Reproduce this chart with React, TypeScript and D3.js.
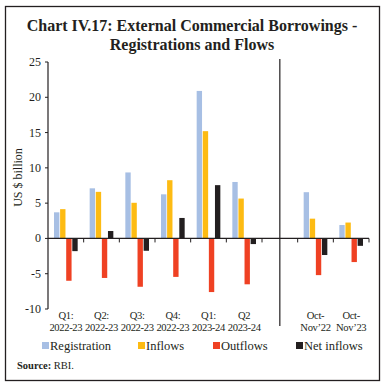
import React from 'react';
import * as d3 from 'd3';

const categories = ['Q1:|2022-23', 'Q2:|2022-23', 'Q3:|2022-23', 'Q4:|2022-23', 'Q1:|2023-24', 'Q2|2023-24', '', 'Oct-|Nov\u201922', 'Oct-|Nov\u201923'];
const seriesNames = ['Registration', 'Inflows', 'Outflows', 'Net inflows'];
const colors = ['#a7bfe4', '#fdbb13', '#ef4123', '#231f20'];
const registration = [3.7, 7.1, 9.35, 6.25, 20.9, 8.0, null, 6.55, 1.9];
const inflows = [4.15, 6.6, 5.05, 8.25, 15.2, 5.65, null, 2.8, 2.25];
const outflows = [-6.0, -5.6, -6.85, -5.45, -7.6, -6.5, null, -5.2, -3.35];
const netInflows = [-1.8, 1.05, -1.75, 2.9, 7.55, -0.8, null, -2.35, -1.05];
const yTicks = [-10, -5, 0, 5, 10, 15, 20, 25];

const series = [registration, inflows, outflows, netInflows];
const serif = '"Liberation Serif", "DejaVu Serif", serif';

const App = () => {
  const width = 386;
  const height = 390;
  const margin = { left: 48, right: 17, top: 62, bottom: 81 };

  const x = d3.scaleBand()
    .domain(categories.map((c, i) => String(i)))
    .range([margin.left, width - margin.right])
    .padding(0);

  const y = d3.scaleLinear()
    .domain([-10, 25])
    .range([height - margin.bottom, margin.top]);

  const inner = d3.scaleBand()
    .domain(seriesNames)
    .range([6, x.bandwidth() - 6])
    .paddingInner(0.12);

  const sepX = x('6') + x.bandwidth() / 2;
  const legendX = [42, 138, 213, 296];

  return (
    <svg width={width} height={height} style={{ position: 'absolute', left: 0, top: 0 }}>
      <rect x={5.5} y={6.5} width={374} height={374} fill="none" stroke="#231f20" strokeWidth={1.3} />
      <text x={192} y={31} textAnchor="middle" fontFamily={serif} fontWeight="bold" fontSize={16} fill="#231f20">
        Chart IV.17: External Commercial Borrowings -
      </text>
      <text x={192} y={50} textAnchor="middle" fontFamily={serif} fontWeight="bold" fontSize={16} fill="#231f20">
        Registrations and Flows
      </text>

      {series.map((vals, s) => (
        <g key={s} fill={colors[s]}>
          {vals.map((v, i) => v == null ? null : (
            <rect
              key={i}
              x={x(String(i)) + inner(seriesNames[s])}
              y={y(Math.max(0, v))}
              width={inner.bandwidth()}
              height={Math.abs(y(v) - y(0))}
            />
          ))}
        </g>
      ))}

      {/* y axis */}
      <line x1={margin.left} x2={margin.left} y1={y(25)} y2={y(-10)} stroke="#231f20" strokeWidth={1.2} />
      {yTicks.map(t => (
        <g key={t}>
          <line x1={margin.left - 3} x2={margin.left} y1={y(t)} y2={y(t)} stroke="#231f20" />
          <text x={margin.left - 7} y={y(t) + 4} textAnchor="end" fontFamily={serif} fontSize={12} fill="#231f20">{t}</text>
        </g>
      ))}
      <text transform={`translate(22,${(y(25) + y(-10)) / 2 - 8}) rotate(-90)`} textAnchor="middle" fontFamily={serif} fontSize={12} fill="#231f20">
        US $ billion
      </text>

      {/* x axis */}
      <line x1={margin.left} x2={width - margin.right} y1={y(0)} y2={y(0)} stroke="#231f20" strokeWidth={1.2} />
      {categories.map((c, i) => (
        <line key={i} x1={x(String(i)) + x.bandwidth()} x2={x(String(i)) + x.bandwidth()} y1={y(0)} y2={y(0) + 4} stroke="#231f20" />
      ))}
      {categories.map((c, i) => {
        const [l1, l2] = c.split('|');
        const cx = x(String(i)) + x.bandwidth() / 2;
        return c ? (
          <text key={i} textAnchor="middle" fontFamily={serif} fontSize={10.6} letterSpacing={-0.35} fill="#231f20">
            <tspan x={cx} y={319}>{l1}</tspan>
            <tspan x={cx} y={331}>{l2}</tspan>
          </text>
        ) : null;
      })}
      <line x1={sepX} x2={sepX} y1={59} y2={326} stroke="#231f20" strokeWidth={1.2} />

      {/* legend */}
      {seriesNames.map((n, i) => (
        <g key={n}>
          <rect x={legendX[i]} y={342} width={7} height={7} fill={colors[i]} />
          <text x={legendX[i] + 8} y={350} fontFamily={serif} fontSize={12.5} fill="#231f20">{n}</text>
        </g>
      ))}

      <text x={17} y={369} fontFamily={serif} fontSize={10.5} fill="#231f20">
        <tspan fontWeight="bold">Source:</tspan> RBI.
      </text>
    </svg>
  );
};

export default App;
